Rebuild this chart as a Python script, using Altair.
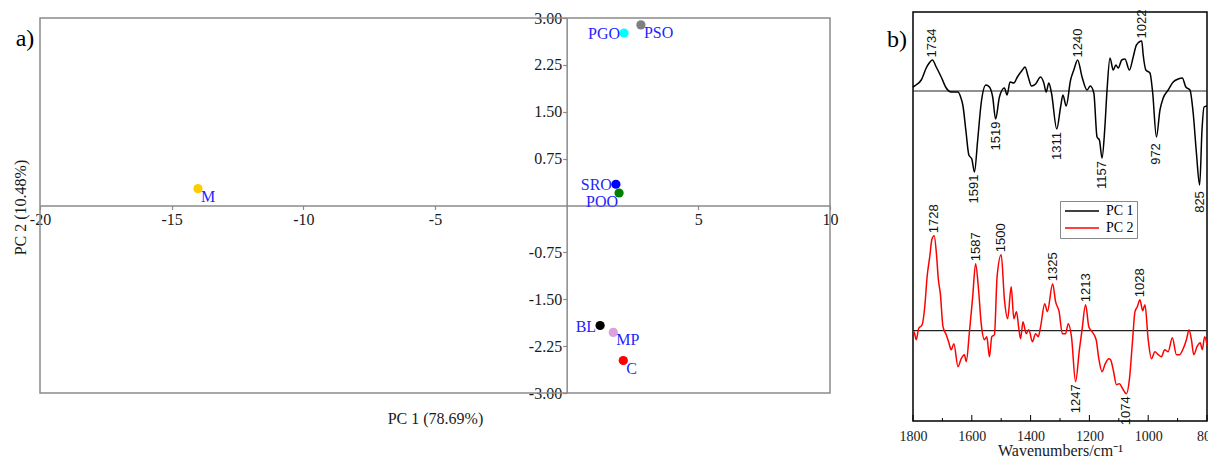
import altair as alt
import pandas as pd

# ---------------- Panel a) PCA scores ----------------
samples = ["M", "PGO", "PSO", "SRO", "POO", "BL", "MP", "C"]
pc1_scores = [-14.0, 2.18, 2.82, 1.87, 1.99, 1.27, 1.77, 2.15]
pc2_scores = [0.27, 2.76, 2.89, 0.34, 0.20, -1.92, -2.03, -2.48]
sample_colors = ["#FFCC00", "#00FFFF", "#808080", "#0000FF", "#008000",
                 "#000000", "#DDA0DD", "#FF0000"]
label_side = ["right", "left", "right", "left", "below", "left", "right", "right"]

pc1_domain = [-20, 10]
pc2_domain = [-3, 3]
pc1_ticks = [-20, -15, -10, -5, 5, 10]
pc2_ticks = [3.0, 2.25, 1.5, 0.75, -0.75, -1.5, -2.25, -3.0]

# ---------------- Panel b) loadings ----------------
pc1_wn = [1800, 1790, 1772, 1755, 1745, 1734, 1721, 1704, 1687, 1670, 1647, 1638,
          1630, 1620, 1610, 1600, 1591, 1580, 1568, 1552, 1540, 1529, 1519, 1506,
          1489, 1480, 1470, 1457, 1445, 1428, 1419, 1408, 1397, 1383, 1366, 1355,
          1347, 1338, 1329, 1311, 1298, 1290, 1279, 1264, 1253, 1240, 1225, 1208,
          1197, 1185, 1174, 1166, 1157, 1148, 1140, 1130, 1119, 1110, 1102, 1090,
          1079, 1064, 1051, 1040, 1022, 1017, 1008, 994, 985, 972, 960, 949, 932,
          915, 898, 884, 872, 858, 847, 836, 825, 817, 810, 800]
pc1_load = [4, 6, 11, 23, 28, 31, 24, 14, 3, -1, -1, -6,
            -15, -40, -64, -68, -81, -49, -12, 6, 4, -6, -28, -6,
            3, -4, 9, 8, 14, 21, 24, 14, 5, 7, 14, 8,
            -1, 8, -2, -38, -16, -4, -15, 11, 21, 31, 14, 1,
            5, -2, -46, -49, -67, -39, 1, 33, 21, 26, 23, 31,
            32, 21, 34, 46, 50, 36, 21, 18, -1, -46, -19, -7, 1,
            9, 12, 13, 4, 1, -22, -62, -94, -39, -16, -15]

pc2_wn = [1800, 1797, 1789, 1781, 1769, 1760, 1752, 1743, 1736, 1728, 1720, 1714,
          1707, 1698, 1687, 1679, 1670, 1661, 1647, 1636, 1625, 1619, 1608, 1597,
          1587, 1577, 1568, 1557, 1549, 1540, 1532, 1523, 1514, 1500, 1489, 1478,
          1466, 1457, 1448, 1440, 1434, 1426, 1415, 1406, 1394, 1383, 1374, 1366,
          1352, 1343, 1325, 1315, 1303, 1292, 1281, 1272, 1261, 1247, 1234, 1225,
          1213, 1202, 1191, 1177, 1168, 1157, 1146, 1134, 1128, 1119, 1108, 1098,
          1087, 1074, 1064, 1053, 1045, 1037, 1028, 1019, 1011, 1000, 989, 977,
          966, 955, 944, 932, 918, 904, 893, 881, 870, 861, 853, 845, 834, 823,
          816, 808, 800]
pc2_load = [-1, -1, -9, 2, 6, 24, 54, 74, 91, 95, 76, 52,
            37, 4, -4, -11, -19, -13, -36, -28, -24, -31, -1, 34,
            67, 41, 7, -9, -6, -26, -6, -4, 54, 76, 31, 12,
            44, 12, 19, 2, -8, 9, -3, 1, -11, -3, -6, 4,
            27, 19, 47, 29, 19, -3, -3, 7, -6, -51, -19, 1,
            26, 4, -1, -9, -28, -41, -33, -28, -29, -39, -54, -53,
            -58, -63, -49, -9, 19, 24, 31, 20, 26, -9, -28, -21,
            -24, -26, -19, -21, -7, -24, -24, -18, -9, 1, -9, -24, -16, -12,
            -19, -6, -14]

pc1_peaks = [1734, 1591, 1519, 1311, 1240, 1157, 1022, 972, 825]
pc1_peak_dir = [1, -1, -1, -1, 1, -1, 1, -1, -1]
pc2_peaks = [1728, 1587, 1500, 1325, 1213, 1028, 1247, 1074]
pc2_peak_dir = [1, 1, 1, 1, 1, 1, -1, -1]

wn_domain = [800, 1800]
wn_ticks = [1800, 1600, 1400, 1200, 1000, 800]
wn_major_marks = [1800, 1600, 1400, 1200, 1000, 800]
wn_minor_marks = [1700, 1500, 1300, 1100, 900]

# ---------------- layout / style ----------------
W, H = 1200, 452
SERIF = "Liberation Serif"
SANS = "Liberation Sans"
GRAY = "#8a8a8a"
TXT = "#1a1a1a"

A_XR = [32, 822]
A_YR = [385, 10]
A_X0 = A_XR[0] + (0 - pc1_domain[0]) / (pc1_domain[1] - pc1_domain[0]) * (A_XR[1] - A_XR[0])
A_Y0 = A_YR[0] + (0 - pc2_domain[0]) / (pc2_domain[1] - pc2_domain[0]) * (A_YR[1] - A_YR[0])

B_XR = [1199, 905]
B_YR = [413, 4]
B_YDOM = [0, 409]
PC1_BASE = 330.0
PC2_BASE = 90.3
LABEL_GAP = 17
LEG_X, LEG_Y, LEG_W = 1052, 193, 73

# ---------------- panel a ----------------
dfA = pd.DataFrame({"sample": samples, "pc1": pc1_scores, "pc2": pc2_scores,
                    "color": sample_colors, "side": label_side})
frameA_df = pd.DataFrame({"pc1": [pc1_domain[0]], "pc1_end": [pc1_domain[1]],
                          "pc2": [pc2_domain[0]], "pc2_end": [pc2_domain[1]]})

minus_fix_x = "replace(format(datum.value, 'd'), '\u2212', '-')"
minus_fix_y = "replace(format(datum.value, '.2f'), '\u2212', '-')"

axisAx = alt.Axis(orient="bottom", offset=-(H - A_Y0), values=pc1_ticks,
                  labelExpr=minus_fix_x, labelFont=SERIF, labelFontSize=16,
                  labelColor=TXT, labelFlush=False, labelPadding=2, labelOverlap=False,
                  tickSize=4, tickColor=GRAY, tickWidth=1.2, domainColor=GRAY,
                  domainWidth=1.5, grid=False,
                  title="PC 1 (78.69%)", titleFont=SERIF, titleFontSize=16,
                  titleFontWeight="normal", titleColor=TXT,
                  titleX=427, titleY=212.5, titleAlign="center", titleBaseline="middle")
axisAy = alt.Axis(orient="left", offset=-A_X0, values=pc2_ticks,
                  labelExpr=minus_fix_y, labelFont=SERIF, labelFontSize=16,
                  labelColor=TXT, labelFlush=False, labelPadding=1, labelOverlap=False,
                  tickSize=4, tickColor=GRAY, tickWidth=1.2, domainColor=GRAY,
                  domainWidth=1.5, grid=False,
                  title="PC 2 (10.48%)", titleFont=SERIF, titleFontSize=16,
                  titleFontWeight="normal", titleColor=TXT, titleAngle=270,
                  titleX=12 - A_X0, titleY=199, titleAlign="center", titleBaseline="middle")

xA = alt.X("pc1:Q", scale=alt.Scale(domain=pc1_domain, range=A_XR, nice=False, zero=False), axis=axisAx)
yA = alt.Y("pc2:Q", scale=alt.Scale(domain=pc2_domain, range=A_YR, nice=False, zero=False), axis=axisAy)

frameA = alt.Chart(frameA_df).mark_rect(fill=None, stroke=GRAY, strokeWidth=1.5).encode(
    x=xA, x2="pc1_end:Q", y=yA, y2="pc2_end:Q")

pointsA = alt.Chart(dfA).mark_circle(size=85, opacity=1).encode(
    x=xA, y=yA, color=alt.Color("color:N", scale=None), tooltip=["sample"])

lab_common = dict(font=SERIF, fontSize=16, color="#1f1fff", baseline="middle")
labR = alt.Chart(dfA).transform_filter("datum.side == 'right'").mark_text(
    align="left", dx=3, dy=8, **lab_common).encode(x=xA, y=yA, text="sample:N")
labL = alt.Chart(dfA).transform_filter("datum.side == 'left'").mark_text(
    align="right", dx=-4, dy=1, **lab_common).encode(x=xA, y=yA, text="sample:N")
labB = alt.Chart(dfA).transform_filter("datum.side == 'below'").mark_text(
    align="right", dx=-1, dy=9, **lab_common).encode(x=xA, y=yA, text="sample:N")

tagA = alt.Chart(pd.DataFrame({"t": ["a)"]})).mark_text(
    font=SERIF, fontSize=24, color="#000", align="center", baseline="middle").encode(
    x=alt.value(17), y=alt.value(31), text="t:N")

panelA = alt.layer(frameA, pointsA, labR, labL, labB, tagA)

# ---------------- panel b ----------------
lines_df = pd.concat([
    pd.DataFrame({"wn": pc1_wn, "load": pc1_load, "series": "PC 1", "base": PC1_BASE}),
    pd.DataFrame({"wn": pc2_wn, "load": pc2_load, "series": "PC 2", "base": PC2_BASE}),
], ignore_index=True)


def peak_rows(wns, vals, peaks, dirs, base):
    lookup = dict(zip(wns, vals))
    return [{"wn": p, "yy": base + lookup[p] + d * LABEL_GAP, "txt": str(p)}
            for p, d in zip(peaks, dirs)]


peaks_df = pd.DataFrame(peak_rows(pc1_wn, pc1_load, pc1_peaks, pc1_peak_dir, PC1_BASE)
                        + peak_rows(pc2_wn, pc2_load, pc2_peaks, pc2_peak_dir, PC2_BASE))

axisBx = alt.Axis(orient="bottom", offset=-(H - B_YR[0]), values=wn_ticks,
                  labelExpr="datum.value", labelFont=SERIF, labelFontSize=14,
                  labelColor=TXT, labelFlush=False, labelPadding=8, labelOverlap=False,
                  ticks=False, tickSize=0, domain=False, grid=False,
                  title="Wavenumbers/cm\u207b\u00b9", titleFont=SERIF, titleFontSize=16,
                  titleFontWeight="normal", titleColor=TXT,
                  titleX=(B_XR[0] + B_XR[1]) / 2, titleY=29,
                  titleAlign="center", titleBaseline="middle")

xB_scale = alt.Scale(domain=wn_domain, range=B_XR, nice=False, zero=False)
yB_scale = alt.Scale(domain=B_YDOM, range=B_YR, nice=False, zero=False)


def xB(field):
    return alt.X(field, scale=xB_scale, axis=axisBx)


def yB(field):
    return alt.Y(field, scale=yB_scale, axis=None)


frameB_df = pd.DataFrame({"wn": [wn_domain[0]], "wn_end": [wn_domain[1]],
                          "yy": [B_YDOM[0]], "yy_end": [B_YDOM[1]]})
frameB = alt.Chart(frameB_df).mark_rect(fill=None, stroke="#000", strokeWidth=1.5).encode(
    x=xB("wn:Q"), x2="wn_end:Q", y=yB("yy:Q"), y2="yy_end:Q")

base_df = pd.DataFrame({"wn": [wn_domain[0]] * 2, "wn_end": [wn_domain[1]] * 2,
                        "yy": [PC1_BASE, PC2_BASE]})
baselines = alt.Chart(base_df).mark_rule(color="#222", strokeWidth=1.2).encode(
    x=xB("wn:Q"), x2="wn_end:Q", y=yB("yy:Q"))

tick_df = pd.DataFrame({"wn": wn_major_marks + wn_minor_marks,
                        "yy": [B_YDOM[0]] * (len(wn_major_marks) + len(wn_minor_marks)),
                        "yy_end": [6] * len(wn_major_marks) + [3] * len(wn_minor_marks)})
ticksB = alt.Chart(tick_df).mark_rule(color="#000", strokeWidth=1).encode(
    x=xB("wn:Q"), y=yB("yy:Q"), y2="yy_end:Q")

linesB = alt.Chart(lines_df).transform_calculate(yy="datum.base + datum.load").mark_line(
    strokeWidth=1.5, interpolate="monotone").encode(
    x=xB("wn:Q"), y=yB("yy:Q"),
    color=alt.Color("series:N",
                    scale=alt.Scale(domain=["PC 1", "PC 2"], range=["#000000", "#FF0000"]),
                    legend=alt.Legend(orient="none", legendX=LEG_X, legendY=LEG_Y, title=None,
                                      symbolType="M-1,0H5.8", symbolSize=100,
                                      symbolStrokeWidth=1.5, labelFont=SERIF,
                                      labelFontSize=14, labelColor="#000", labelOffset=29,
                                      padding=3, rowPadding=3, strokeColor="#888",
                                      fillColor="white")),
    order="wn:Q")

legend_sep = alt.Chart(pd.DataFrame({"t": [0]})).mark_rule(color="#888", strokeWidth=1).encode(
    x=alt.value(LEG_X), x2=alt.value(LEG_X + LEG_W), y=alt.value(LEG_Y + 18.5))

peakText = alt.Chart(peaks_df).mark_text(
    font=SANS, fontSize=13, angle=270, align="center", baseline="middle", color="#111").encode(
    x=xB("wn:Q"), y=yB("yy:Q"), text="txt:N")

tagB = alt.Chart(pd.DataFrame({"t": ["b)"]})).mark_text(
    font=SERIF, fontSize=24, color="#000", align="center", baseline="middle").encode(
    x=alt.value(889), y=alt.value(32), text="t:N")

panelB = alt.layer(frameB, baselines, ticksB, linesB, legend_sep, peakText, tagB)

chart = alt.layer(panelA, panelB).resolve_scale(
    x="independent", y="independent").properties(
    width=W, height=H, padding=0, autosize=alt.AutoSizeParams(type="none")
).configure_view(stroke=None)

chart.save("out.html", embed_options={"renderer": "svg", "actions": False})
